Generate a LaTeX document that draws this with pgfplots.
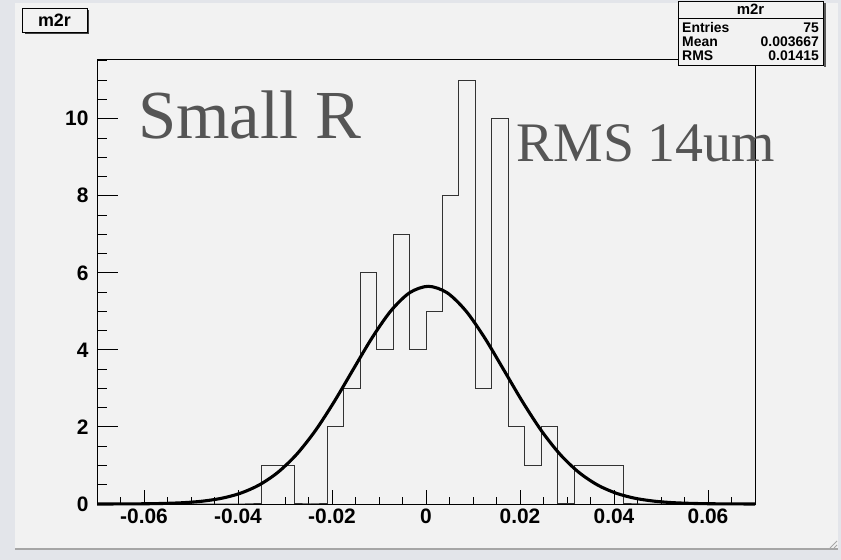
\documentclass[border=0pt]{standalone}
\usepackage{fontspec}
\setmainfont{Liberation Sans}
\newfontfamily\garfont{Liberation Serif}
\usepackage{pgfplots}
\pgfplotsset{compat=1.18}
\definecolor{canvas}{HTML}{F2F2F2}
\definecolor{outer}{HTML}{E3E5EA}
\definecolor{txtgray}{HTML}{555555}
\pgfplotsset{rootax/.style={at={(AO)}, anchor=south west, scale only axis,
  width=658bp, height=445bp, xmin=-0.07, xmax=0.07, ymin=0, ymax=11.55,
  scaled x ticks=false, scaled y ticks=false,
  axis line style={line width=0.9bp, black}, tick style={line width=0.9bp, black},
  tick align=inside, clip=false}}
\begin{document}
\begin{tikzpicture}[x=1bp,y=1bp]
\useasboundingbox (0,0) rectangle (841,560);
\fill[outer] (0,0) rectangle (841,560);
\fill[canvas] (15,11) rectangle (838,557);
\draw[black!35, line width=1.5bp] (15,11) -- (838,11);
\draw[black!35, line width=0.8bp] (830,12) -- (837,19) (834,12) -- (837,15);
\coordinate (AO) at (97,56);

% x ticks + data
\begin{axis}[rootax,
  xtick={-0.06,-0.04,-0.02,0,0.02,0.04,0.06},
  xticklabels={-0.06,-0.04,-0.02,0,0.02,0.04,0.06},
  minor xtick={-0.065,-0.055,-0.05,-0.045,-0.035,-0.03,-0.025,-0.015,-0.01,-0.005,0.005,0.01,0.015,0.025,0.03,0.035,0.045,0.05,0.055,0.065},
  xtick pos=bottom, ytick=\empty,
  major tick length=14bp, minor tick length=6.5bp,
  xticklabel style={font=\fontsize{21}{23}\selectfont\bfseries, yshift=-1bp}]
\addplot[const plot, black!80, line width=1bp] coordinates {
(-0.07,0) (-0.0665,0) (-0.063,0) (-0.0595,0) (-0.056,0) (-0.0525,0) (-0.049,0) (-0.0455,0) (-0.042,0) (-0.0385,0)
(-0.035,1) (-0.0315,1) (-0.028,0) (-0.0245,0) (-0.021,2) (-0.0175,3) (-0.014,6) (-0.0105,4) (-0.007,7) (-0.0035,4)
(0,5) (0.0035,8) (0.007,11) (0.0105,3) (0.014,10) (0.0175,2) (0.021,1) (0.0245,2) (0.028,0) (0.0315,1)
(0.035,1) (0.0385,1) (0.042,0) (0.0455,0) (0.049,0) (0.0525,0) (0.056,0) (0.0595,0) (0.063,0) (0.0665,0)
(0.07,0)};
\addplot[smooth, black, line width=3.1bp] coordinates {
(-0.07,0.0005) (-0.0675,0.0009) (-0.0635,0.0025) (-0.0595,0.0065) (-0.0555,0.0155) (-0.0515,0.0349)
(-0.0475,0.0740) (-0.0435,0.1479) (-0.0395,0.2783) (-0.0355,0.493) (-0.0315,0.823) (-0.0275,1.292)
(-0.0235,1.911) (-0.0195,2.662) (-0.0155,3.490) (-0.0115,4.309) (-0.0075,5.009) (-0.0035,5.482)
(0.0005,5.65) (0.0045,5.482) (0.0085,5.009) (0.0125,4.309) (0.0165,3.490) (0.0205,2.662)
(0.0245,1.911) (0.0285,1.292) (0.0325,0.823) (0.0365,0.493) (0.0405,0.2783) (0.0445,0.1479)
(0.0485,0.0740) (0.0525,0.0349) (0.0565,0.0155) (0.0605,0.0065) (0.0645,0.0025) (0.0685,0.0009)
(0.07,0.0007)};
\end{axis}

% y ticks
\begin{axis}[rootax,
  ytick={0,2,4,6,8,10}, yticklabels={0,2,4,6,8,10},
  minor ytick={0.5,1,1.5,2.5,3,3.5,4.5,5,5.5,6.5,7,7.5,8.5,9,9.5,10.5,11,11.5},
  ytick pos=left, xtick=\empty,
  major tick length=21bp, minor tick length=10bp,
  yticklabel style={font=\fontsize{21}{23}\selectfont\bfseries, xshift=-5bp}]
\end{axis}

% annotations
\node[anchor=base west, inner sep=0, text=txtgray, font=\garfont\fontsize{69}{71}\selectfont] at (138,421.5) {Small R};
\node[anchor=base west, inner sep=0, text=txtgray, font=\garfont\fontsize{56}{58}\selectfont] at (516,398.5) {RMS 14um};

% title box
\fill[black!75] (24.5,525.5) rectangle (89,550);
\draw[fill=canvas, line width=0.9bp] (22,528) rectangle (87,552);
\node[font=\fontsize{18}{20}\selectfont\bfseries] at (54.5,540) {m2r};

% stats box
\fill[black!65] (824,493) rectangle (826,557);
\draw[fill=canvas, line width=0.9bp] (678,495) rectangle (823,559);
\draw[line width=0.9bp] (678,542) -- (823,542);
\node[font=\fontsize{15}{17}\selectfont\bfseries] at (750.5,550.5) {m2r};
\begin{scope}[every node/.style={font=\fontsize{14}{16}\selectfont\bfseries, inner sep=0}]
\node[anchor=west] at (682,532) {Entries};
\node[anchor=east] at (819,532) {75};
\node[anchor=west] at (682,518) {Mean};
\node[anchor=east] at (819,518) {0.003667};
\node[anchor=west] at (682,504) {RMS};
\node[anchor=east] at (819,504) {0.01415};
\end{scope}
\end{tikzpicture}
\end{document}
